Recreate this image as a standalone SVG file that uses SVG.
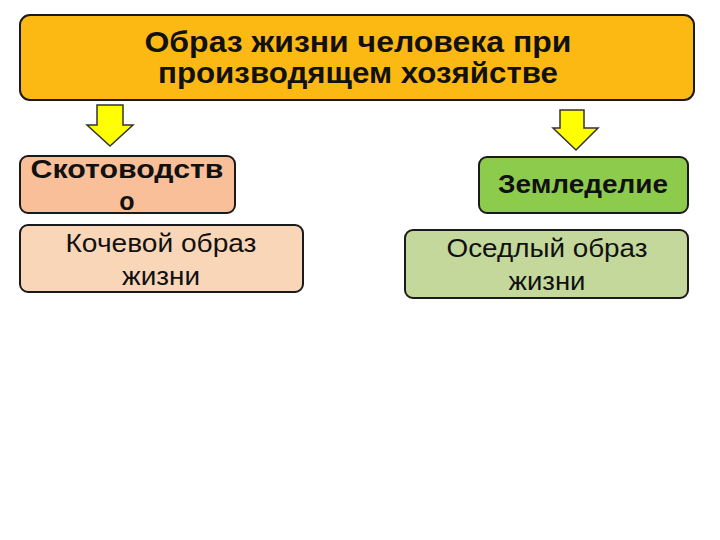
<svg xmlns="http://www.w3.org/2000/svg" width="720" height="540" viewBox="0 0 720 540">
<style>
.box{stroke:#1a1a1a;stroke-width:2}
.b{font-family:"Liberation Sans",Arial,sans-serif;font-weight:bold;fill:#111}
.r{font-family:"Liberation Sans",Arial,sans-serif;fill:#111}
.arr{fill:#FFFF00;stroke:#333;stroke-width:1.5;stroke-linejoin:miter}
</style>
<rect width="720" height="540" fill="#ffffff"/>
<g id="top">
<rect class="box" x="20" y="15" width="674" height="85" rx="10" fill="#FDB913"/>
<text class="b" x="358" y="52" font-size="30" text-anchor="middle" textLength="427" lengthAdjust="spacingAndGlyphs">Образ жизни человека при</text>
<text class="b" x="358" y="83" font-size="30" text-anchor="middle" textLength="400" lengthAdjust="spacingAndGlyphs">производящем хозяйстве</text>
</g>
<g id="connectors">
<path class="arr" d="M97,105 H123 V125 H133 L110,146 L87,125 H97 Z"/>
<path class="arr" d="M560,110 H584 V128 H598 L576,150 L553,128 H560 Z"/>
</g>
<g id="skotovodstvo">
<rect class="box" x="20" y="156" width="215" height="57" rx="8" fill="#F8BF98"/>
<text class="b" x="127" y="178" font-size="25" text-anchor="middle" textLength="193" lengthAdjust="spacingAndGlyphs">Скотоводств</text>
<text class="b" x="127" y="210" font-size="25" text-anchor="middle">о</text>
</g>
<g id="kochevoy">
<rect class="box" x="20" y="225" width="283" height="67" rx="8" fill="#FAD6B8"/>
<text class="r" x="161" y="252" font-size="25" text-anchor="middle" textLength="191" lengthAdjust="spacingAndGlyphs">Кочевой образ</text>
<text class="r" x="161" y="285" font-size="25" text-anchor="middle" textLength="78" lengthAdjust="spacingAndGlyphs">жизни</text>
</g>
<g id="zemledelie">
<rect class="box" x="479" y="157" width="209" height="56" rx="8" fill="#8DCB4C"/>
<text class="b" x="583" y="193" font-size="25" text-anchor="middle" textLength="170" lengthAdjust="spacingAndGlyphs">Земледелие</text>
</g>
<g id="osedly">
<rect class="box" x="405" y="230" width="283" height="68" rx="8" fill="#C4D89C"/>
<text class="r" x="547" y="257" font-size="25" text-anchor="middle" textLength="201" lengthAdjust="spacingAndGlyphs">Оседлый образ</text>
<text class="r" x="547" y="290" font-size="25" text-anchor="middle" textLength="77" lengthAdjust="spacingAndGlyphs">жизни</text>
</g>
</svg>
